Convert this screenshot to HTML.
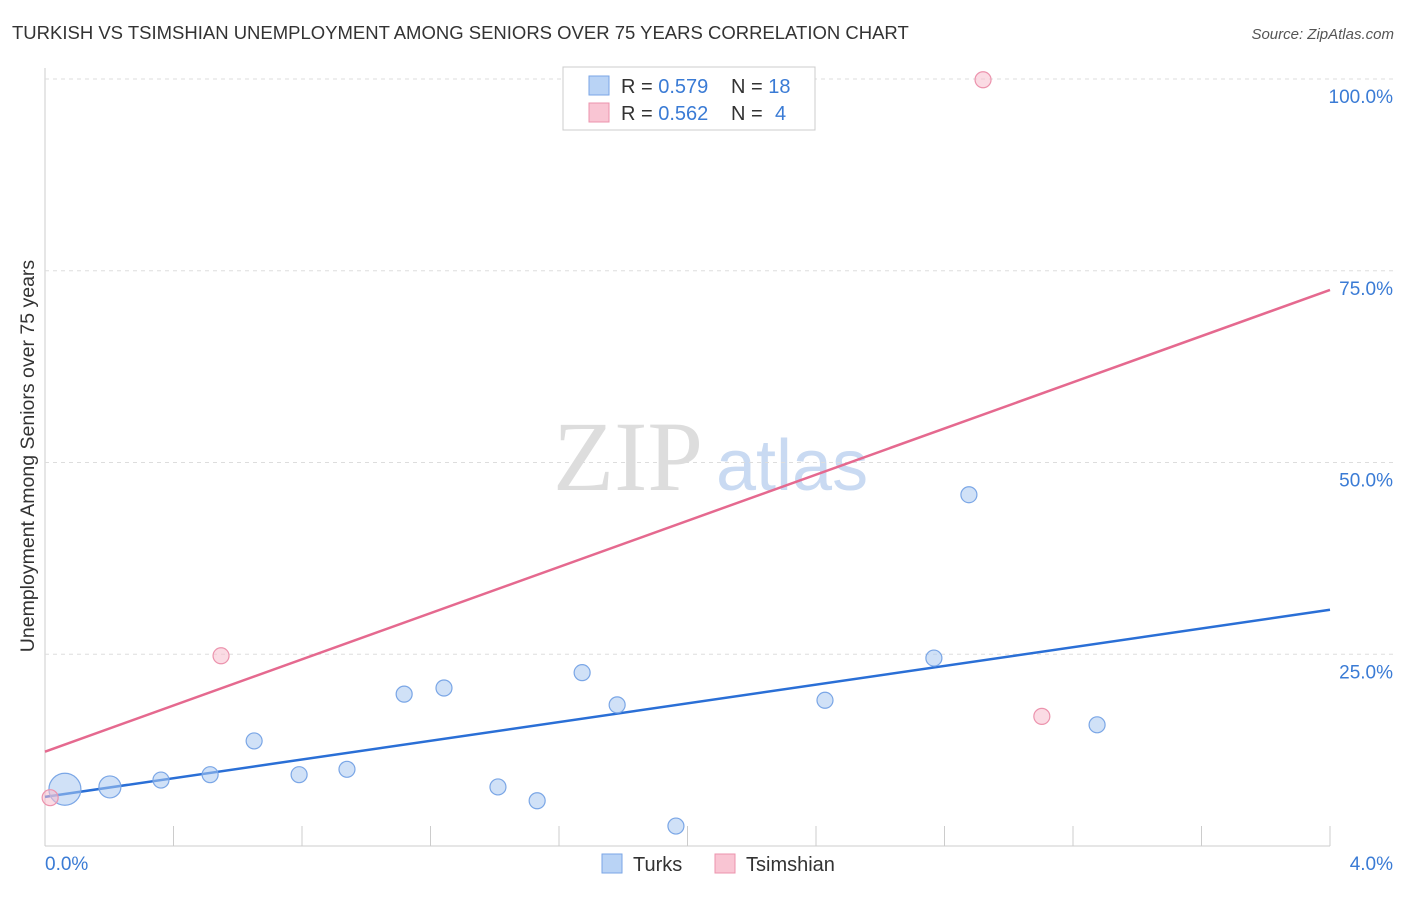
<!DOCTYPE html>
<html><head><meta charset="utf-8"><style>
body{margin:0;background:#fff;font-family:"Liberation Sans",sans-serif;}
</style></head><body>
<svg id="chart" width="1406" height="892" style="font-family:'Liberation Sans',sans-serif">
<text x="12" y="39" font-size="18.5" fill="#333">TURKISH VS TSIMSHIAN UNEMPLOYMENT AMONG SENIORS OVER 75 YEARS CORRELATION CHART</text>
<text x="1394" y="39" font-size="15" fill="#555" text-anchor="end" font-style="italic">Source: ZipAtlas.com</text>
<text transform="translate(34,456) rotate(-90)" font-size="19.5" fill="#333" text-anchor="middle">Unemployment Among Seniors over 75 years</text>
<g>
<text x="553" y="490" font-size="100" fill="#ddd" style="font-family:'Liberation Serif',serif">ZIP</text>
<text x="716" y="490" font-size="72" fill="#c9daf2">atlas</text>
</g>
<g id="grid"></g><g id="lines"></g><g id="pts"></g>
<g>
<rect x="563" y="67" width="252" height="63" fill="#fff" stroke="#ccc"/>
<rect x="589" y="76" width="20" height="19" fill="#b9d3f5" stroke="#7aa6e6"/>
<rect x="589" y="103" width="20" height="19" fill="#f9c5d3" stroke="#ec93ad"/>
<text x="621" y="93" font-size="20" fill="#333">R = <tspan fill="#3a7bd5">0.579</tspan></text>
<text x="731" y="93" font-size="20" fill="#333">N = <tspan fill="#3a7bd5">18</tspan></text>
<text x="621" y="120" font-size="20" fill="#333">R = <tspan fill="#3a7bd5">0.562</tspan></text>
<text x="731" y="120" font-size="20" fill="#333">N = <tspan fill="#3a7bd5" x="775">4</tspan></text>
</g>
<g>
<rect x="602" y="854" width="20" height="19" fill="#b9d3f5" stroke="#7aa6e6"/>
<text x="633" y="871" font-size="20" fill="#333">Turks</text>
<rect x="715" y="854" width="20" height="19" fill="#f9c5d3" stroke="#ec93ad"/>
<text x="746" y="871" font-size="20" fill="#333">Tsimshian</text>
</g>
<text x="45" y="870" font-size="19" fill="#3a7bd5">0.0%</text>
<text x="1393" y="870" font-size="19" fill="#3a7bd5" text-anchor="end">4.0%</text>
</svg>
<script>
const turksX=[0.062,0.202,0.361,0.514,0.651,0.791,0.940,1.118,1.242,1.410,1.532,1.672,1.781,1.964,2.428,2.767,2.876,3.275];
const turksY=[7.4,7.7,8.6,9.3,13.7,9.3,10.0,19.8,20.6,7.7,5.9,22.6,18.4,2.6,19.0,24.5,45.8,15.8];
const turksR=[16,11,8,8,8,8,8,8,8,8,8,8,8,8,8,8,8,8];
const tsimX=[0.016,0.548,2.920,3.103];
const tsimY=[6.3,24.8,99.9,16.9];
const turksTrend=[6.4,30.8];
const tsimTrend=[12.3,72.5];
const yTicks=[25,50,75,100];
const yTickLabels=["25.0%","50.0%","75.0%","100.0%"];
const xTicks=[0,0.4,0.8,1.2,1.6,2.0,2.4,2.8,3.2,3.6,4.0];
const NS="http://www.w3.org/2000/svg";
const sx=v=>45+v/4*1285, sy=v=>846-v/100*767;
function mk(tag,attrs,parent){const e=document.createElementNS(NS,tag);for(const k in attrs)e.setAttribute(k,attrs[k]);document.getElementById(parent).appendChild(e);return e;}
let e=mk('line',{x1:45,x2:45,y1:68,y2:846,stroke:'#ccc'},'grid');


e=mk('line',{x1:45,x2:1330,y1:846,y2:846,stroke:'#ccc'},'grid');


yTicks.forEach((t,i)=>{
 let g=mk('line',{x1:45,x2:1394,y1:sy(t),y2:sy(t),stroke:'#ddd','stroke-dasharray':'4,4'},'grid');
 
 
 let l=mk('text',{x:1393,y:sy(t)+24,'font-size':19,fill:'#3a7bd5','text-anchor':'end'},'grid');
 l.textContent=yTickLabels[i];
 
 
});
xTicks.forEach(t=>{
 let g=mk('line',{x1:sx(t),x2:sx(t),y1:826,y2:846,stroke:'#ccc'},'grid');
 
 
});
let bl=mk('line',{x1:sx(0),y1:sy(turksTrend[0]),x2:sx(4),y2:sy(turksTrend[1]),stroke:'#2a6fd6','stroke-width':2.5},'lines');


let pl=mk('line',{x1:sx(0),y1:sy(tsimTrend[0]),x2:sx(4),y2:sy(tsimTrend[1]),stroke:'#e5698f','stroke-width':2.5},'lines');


turksX.forEach((x,i)=>{
 let c=mk('circle',{cx:sx(x),cy:sy(turksY[i]),r:turksR[i],fill:'rgba(170,200,240,0.55)',stroke:'#7aa6e6','stroke-width':1.2},'pts');
 
 
});
tsimX.forEach((x,i)=>{
 let c=mk('circle',{cx:sx(x),cy:sy(tsimY[i]),r:8,fill:'rgba(248,190,205,0.55)',stroke:'#ec93ad','stroke-width':1.2},'pts');
 
 
});
</script>
</body></html>
